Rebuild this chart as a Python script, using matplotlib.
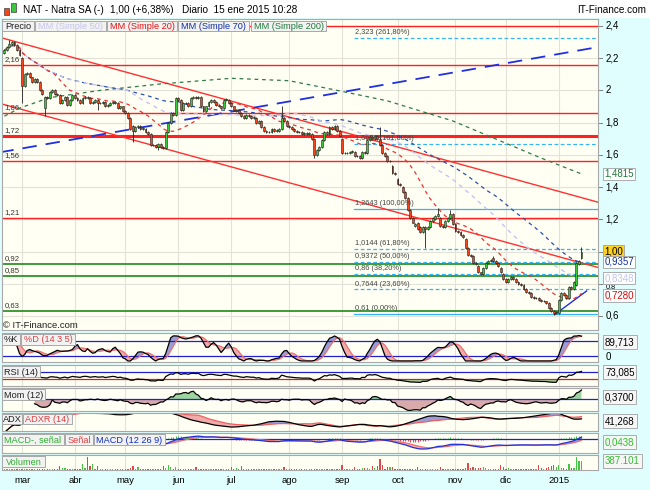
import numpy as np
import pandas as pd
import matplotlib
matplotlib.use("Agg")
import matplotlib.pyplot as plt
from matplotlib.patches import Rectangle
from matplotlib.transforms import blended_transform_factory as blend

plt.rcParams['font.family'] = ['Liberation Sans', 'DejaVu Sans']

# ---------------- data (NAT - Natra SA, daily) ----------------
holidays = ['2014-04-18', '2014-04-21', '2014-05-01', '2014-12-25', '2014-12-26', '2015-01-01']
dates = pd.bdate_range('2014-02-20', '2015-01-15')
dates = dates[~dates.isin(pd.to_datetime(holidays))]

opens = [
    2.23, 2.25, 2.27, 2.29, 2.30, 2.28, 2.25, 2.20, 2.03, 2.10,
    2.11, 2.08, 2.05, 2.07, 2.05, 2.00, 1.89, 1.96, 1.95, 1.99,
    2.00, 1.98, 1.97, 1.92, 1.94, 1.96, 1.91, 1.94, 1.97, 1.95,
    1.94, 1.92, 1.95, 1.96, 1.95, 1.92, 1.93, 1.94, 1.92, 1.92,
    1.93, 1.90, 1.91, 1.92, 1.93, 1.92, 1.89, 1.90, 1.87, 1.86,
    1.83, 1.78, 1.75, 1.77, 1.78, 1.76, 1.76, 1.74, 1.73, 1.66,
    1.66, 1.65, 1.67, 1.65, 1.64, 1.74, 1.80, 1.86, 1.85, 1.95,
    1.94, 1.88, 1.92, 1.92, 1.90, 1.95, 1.96, 1.95, 1.96, 1.90,
    1.87, 1.90, 1.93, 1.94, 1.93, 1.91, 1.90, 1.89, 1.94, 1.94,
    1.92, 1.90, 1.87, 1.88, 1.86, 1.84, 1.83, 1.85, 1.84, 1.83,
    1.83, 1.80, 1.81, 1.77, 1.75, 1.74, 1.74, 1.76, 1.75, 1.75,
    1.76, 1.83, 1.81, 1.78, 1.77, 1.76, 1.75, 1.74, 1.74, 1.73,
    1.73, 1.73, 1.73, 1.70, 1.60, 1.63, 1.65, 1.69, 1.74, 1.73,
    1.77, 1.76, 1.78, 1.75, 1.70, 1.61, 1.61, 1.61, 1.62, 1.62,
    1.59, 1.59, 1.58, 1.62, 1.61, 1.69, 1.71, 1.70, 1.72, 1.70,
    1.66, 1.61, 1.59, 1.56, 1.53, 1.49, 1.45, 1.42, 1.40, 1.37,
    1.33, 1.26, 1.21, 1.16, 1.18, 1.15, 1.12, 1.15, 1.14, 1.15,
    1.19, 1.20, 1.22, 1.21, 1.16, 1.15, 1.19, 1.21, 1.23, 1.17,
    1.13, 1.12, 1.10, 1.08, 1.02, 0.98, 0.97, 0.93, 0.91, 0.87,
    0.86, 0.90, 0.93, 0.94, 0.96, 0.94, 0.93, 0.90, 0.86, 0.83,
    0.81, 0.83, 0.84, 0.83, 0.81, 0.80, 0.79, 0.77, 0.75, 0.74,
    0.72, 0.71, 0.71, 0.70, 0.69, 0.69, 0.68, 0.65, 0.63, 0.62,
    0.62, 0.70, 0.74, 0.73, 0.71, 0.78, 0.77, 0.79, 0.92, 0.96,
]
closes = [
    2.25, 2.27, 2.29, 2.30, 2.28, 2.25, 2.22, 2.03, 2.10, 2.11,
    2.08, 2.05, 2.07, 2.05, 2.00, 1.98, 1.96, 1.95, 1.99, 2.00,
    1.98, 1.97, 1.92, 1.94, 1.96, 1.91, 1.94, 1.97, 1.95, 1.94,
    1.92, 1.95, 1.96, 1.95, 1.92, 1.93, 1.94, 1.92, 1.92, 1.93,
    1.90, 1.91, 1.92, 1.93, 1.92, 1.89, 1.90, 1.87, 1.86, 1.83,
    1.76, 1.75, 1.77, 1.78, 1.76, 1.76, 1.74, 1.73, 1.66, 1.66,
    1.65, 1.67, 1.65, 1.64, 1.74, 1.80, 1.86, 1.85, 1.95, 1.94,
    1.88, 1.92, 1.92, 1.90, 1.95, 1.96, 1.95, 1.96, 1.90, 1.87,
    1.90, 1.93, 1.94, 1.93, 1.91, 1.90, 1.89, 1.94, 1.94, 1.92,
    1.90, 1.88, 1.88, 1.86, 1.84, 1.83, 1.85, 1.84, 1.83, 1.83,
    1.80, 1.81, 1.77, 1.75, 1.74, 1.74, 1.76, 1.75, 1.75, 1.76,
    1.83, 1.81, 1.78, 1.77, 1.76, 1.75, 1.74, 1.74, 1.73, 1.73,
    1.73, 1.73, 1.70, 1.60, 1.63, 1.65, 1.69, 1.74, 1.73, 1.77,
    1.76, 1.78, 1.75, 1.72, 1.61, 1.61, 1.61, 1.62, 1.62, 1.59,
    1.59, 1.58, 1.62, 1.61, 1.69, 1.71, 1.70, 1.72, 1.70, 1.66,
    1.61, 1.59, 1.56, 1.56, 1.49, 1.48, 1.42, 1.41, 1.37, 1.33,
    1.26, 1.21, 1.18, 1.17, 1.14, 1.12, 1.15, 1.14, 1.15, 1.19,
    1.21, 1.22, 1.23, 1.16, 1.15, 1.19, 1.21, 1.23, 1.17, 1.13,
    1.12, 1.10, 1.09, 1.02, 0.98, 0.97, 0.93, 0.92, 0.87, 0.86,
    0.90, 0.93, 0.94, 0.95, 0.94, 0.93, 0.91, 0.87, 0.83, 0.81,
    0.83, 0.84, 0.83, 0.81, 0.80, 0.79, 0.77, 0.75, 0.74, 0.72,
    0.71, 0.71, 0.70, 0.69, 0.69, 0.68, 0.65, 0.63, 0.62, 0.62,
    0.70, 0.74, 0.73, 0.71, 0.78, 0.77, 0.81, 0.93, 0.94, 1.00,
]
# only the wicks that stick out visibly
wick_hi = {2: 2.31, 110: 1.90, 149: 1.77, 172: 1.27, 177: 1.26, 194: 0.97, 229: 1.03}
wick_lo = {7: 1.92, 16: 1.84, 37: 1.88, 51: 1.68, 61: 1.63, 123: 1.58, 167: 1.02, 218: 0.605}

volume = [  # thousands of shares
    20, 25, 30, 20, 25, 30, 20, 35, 25, 30,
    20, 25, 30, 20, 35, 30, 40, 25, 30, 20,
    25, 35, 130, 50, 50, 30, 20, 25, 30, 35,
    40, 170, 60, 380, 130, 170, 40, 120, 30, 25,
    20, 25, 30, 20, 35, 30, 25, 30, 35, 40,
    60, 130, 40, 80, 30, 25, 20, 30, 40, 35,
    30, 25, 40, 130, 50, 150, 80, 40, 80, 30,
    35, 40, 30, 25, 30, 40, 80, 30, 25, 20,
    20, 25, 30, 20, 25, 20, 30, 25, 20, 30,
    80, 40, 70, 40, 130, 30, 25, 20, 25, 20,
    20, 25, 20, 25, 30, 20, 25, 20, 25, 30,
    40, 100, 30, 25, 20, 25, 20, 30, 25, 20,
    20, 25, 30, 40, 40, 30, 25, 20, 25, 20,
    25, 20, 25, 30, 140, 30, 35, 40, 30, 80,
    30, 40, 60, 50, 70, 40, 120, 60, 130, 320,
    140, 40, 80, 80, 80, 40, 30, 35, 40, 30,
    40, 35, 30, 40, 80, 35, 30, 25, 30, 40,
    30, 25, 30, 80, 30, 25, 30, 25, 30, 40,
    35, 30, 40, 60, 220, 60, 80, 60, 70, 60,
    80, 60, 40, 30, 35, 40, 30, 140, 100, 40,
    50, 40, 35, 30, 40, 30, 35, 40, 30, 40,
    35, 40, 140, 60, 40, 50, 100, 120, 140, 100,
    140, 60, 50, 40, 180, 60, 60, 390, 260, 260,
]

# MM 200 needs history before the window
ma200_idx = [0, 6, 18, 38, 62, 90, 113, 129, 152, 178, 213, 229]
ma200_val = [1.84, 1.89, 1.955, 2.00, 2.04, 2.075, 2.06, 2.01, 1.935, 1.81, 1.58, 1.4815]

sr_red = [2.40, 2.16, 1.86, 1.72, 1.56, 1.21]
sr_green = [0.92, 0.85, 0.63]
fib_pcts = [0, 23.6, 38.2, 50, 61.8, 100, 161.8, 261.8]
fib_vals = [0.61, 0.7644, 0.86, 0.9372, 1.0144, 1.2643, 1.6687, 2.323]
fib_start = 138.7
chan_upper = [(-2, 2.33), (237, 1.30)]
chan_lower = [(-2, 1.92), (237, 0.895)]
trend_up = [(-2, 1.615), (236, 2.27)]
support = [(218.5, 0.61), (231, 0.755)]

month_labels = ['mar', 'abr', 'may', 'jun', 'jul', 'ago', 'sep', 'oct', 'nov', 'dic', '2015']
price_ticks = [2.4, 2.2, 2.0, 1.8, 1.6, 1.4, 1.2, 1.0, 0.8, 0.6]
hidden_ticks = [1.0]   # covered by the last-price box in the original
peek_ticks = [0.8]     # squeezed between two boxes in the original
last_boxes = [(1.4815, '1,4815', '#1F7A3A', 'white'),
              (1.00, '1,00', 'black', '#FFD21F'),
              (0.9357, '0,9357', '#1030A0', 'white'),
              (0.8348, '0,8348', '#C4C4EE', 'white'),
              (0.7280, '0,7280', '#D01010', 'white')]

# ---------------- derived series ----------------
n = min(len(dates), len(closes))
o = pd.Series(opens[:n], dtype=float)
c = pd.Series(closes[:n], dtype=float)
hi = pd.concat([o, c], axis=1).max(axis=1)
lo = pd.concat([o, c], axis=1).min(axis=1)
for k_, v in wick_hi.items():
    hi[k_] = v
for k_, v in wick_lo.items():
    lo[k_] = v
ix = np.arange(n)
up = (c >= o).values

ma20 = c.rolling(20, min_periods=1).mean()
ma50 = c.rolling(50, min_periods=1).mean()
ma70 = c.rolling(70, min_periods=1).mean()

ll = lo.rolling(14, min_periods=1).min()
hh = hi.rolling(14, min_periods=1).max()
raw_k = 100 * (c - ll) / (hh - ll).replace(0, np.nan)
stoch_k = raw_k.rolling(3, min_periods=1).mean()
stoch_d = stoch_k.rolling(5, min_periods=1).mean()

delta = c.diff()
gain = delta.clip(lower=0).ewm(alpha=1 / 14, adjust=False).mean()
loss = (-delta.clip(upper=0)).ewm(alpha=1 / 14, adjust=False).mean()
rsi = 100 - 100 / (1 + gain / loss.replace(0, np.nan))

mom = c - c.shift(12)

up_mv = hi.diff()
dn_mv = -lo.diff()
pdm = np.where((up_mv > dn_mv) & (up_mv > 0), up_mv, 0.0)
mdm = np.where((dn_mv > up_mv) & (dn_mv > 0), dn_mv, 0.0)
tr = pd.concat([hi - lo, (hi - c.shift()).abs(), (lo - c.shift()).abs()], axis=1).max(axis=1)
atr = tr.ewm(alpha=1 / 14, adjust=False).mean()
pdi = 100 * pd.Series(pdm).ewm(alpha=1 / 14, adjust=False).mean() / atr
mdi = 100 * pd.Series(mdm).ewm(alpha=1 / 14, adjust=False).mean() / atr
dx = 100 * (pdi - mdi).abs() / (pdi + mdi).replace(0, np.nan)
adx = dx.fillna(0).ewm(alpha=1 / 14, adjust=False).mean()
adxr = ((adx + adx.shift(14)) / 2).fillna(adx)

macd = c.ewm(span=12, adjust=False).mean() - c.ewm(span=26, adjust=False).mean()
signal = macd.ewm(span=9, adjust=False).mean()
hist = macd - signal

# ---------------- layout helpers ----------------
W, H = 650, 490
CYAN = '#E0FEFE'
IVORY = '#FFFFF4'
GRID = '#E2E2D8'
GREEN = '#3CC83C'
RED = '#F2461E'

fig = plt.figure(figsize=(W / 100, H / 100), dpi=100)
fig.patch.set_facecolor(CYAN)


def px_rect(l, t, r, b):
    return [l / W, 1 - b / H, (r - l) / W, (b - t) / H]


def ftext(x, y, s, **kw):
    fig.text(x / W, 1 - y / H, s, **kw)


def fbox(l, t, r, b, s, color, fc='#F2F2F2', size=6.6):
    fig.add_artist(Rectangle((l / W, 1 - b / H), (r - l) / W, (b - t) / H,
                             transform=fig.transFigure, fc=fc, ec='#A8A8A8', lw=0.7))
    ftext((l + r) / 2, (t + b) / 2 + 0.5, s, color=color, fontsize=size, ha='center', va='center')


XLIM = ((2 - 4.4) / 2.52, (598 - 4.4) / 2.52)
month_pos = [i for i in range(1, n) if dates[i].month != dates[i - 1].month]


def panel(l, t, r, b, ylim):
    a = fig.add_axes(px_rect(l, t, r, b))
    a.set_facecolor(IVORY)
    a.set_xlim(*XLIM)
    a.set_ylim(*ylim)
    a.set_xticks([])
    a.set_yticks([])
    for sp in a.spines.values():
        sp.set_color('#A8A8A8')
        sp.set_linewidth(0.8)
    for m in month_pos:
        a.axvline(m, color=GRID, lw=0.8, zorder=0)
    return a


# header band
fig.add_artist(Rectangle((0, 1 - 18 / H), 1, 18 / H, transform=fig.transFigure, fc='white', ec='none'))
fig.add_artist(Rectangle((4 / W, 1 - 15 / H), 5 / W, 7 / H, transform=fig.transFigure, fc=RED, ec='#404040', lw=0.5))
fig.add_artist(Rectangle((11 / W, 1 - 12 / H), 5 / W, 9 / H, transform=fig.transFigure, fc=GREEN, ec='#404040', lw=0.5))
ftext(23, 10, 'NAT - Natra SA (-)', fontsize=7.2, va='center')
ftext(110, 10, '1,00 (+6,38%)', fontsize=7.2, va='center')
ftext(182, 10, 'Diario  15 ene 2015 10:28', fontsize=7.2, va='center')
ftext(646, 10, 'IT-Finance.com', fontsize=7.2, va='center', ha='right')

# ---------------- price panel ----------------
ax = panel(2, 19, 598, 330, (0.513, 2.443))
for v in np.arange(0.6, 2.41, 0.2):
    ax.axhline(v, color=GRID, lw=0.8, zorder=0)

for v in sr_red:
    ax.axhline(v, color='#FF2020', lw=2.2 if v == 1.72 else 1.0, zorder=2)
    if v < 2.3:
        ax.text(0.004, v + 0.012, f'{v:.2f}'.replace('.', ','), transform=blend(ax.transAxes, ax.transData),
                fontsize=5.6, color='#333333', va='bottom')
for v in sr_green:
    ax.axhline(v, color='#0A800A', lw=1.1, zorder=2)
    ax.text(0.004, v + 0.012, f'{v:.2f}'.replace('.', ','), transform=blend(ax.transAxes, ax.transData),
            fontsize=5.6, color='#333333', va='bottom')

for p, v in zip(fib_pcts, fib_vals):
    ls = '-' if p in (0, 100) else (0, (3, 2))
    ax.plot([fib_start, XLIM[1]], [v, v], color='#34B4F4', lw=0.9, ls=ls, zorder=2)
    ax.text(fib_start + 0.5, v + 0.012, f'{str(v).replace(".", ",")} ({p:.2f}%)'.replace('.', ','),
            fontsize=5.3, color='#444444', va='bottom', zorder=6)

for line in (chan_upper, chan_lower):
    ax.plot(*zip(*line), color='#FF3030', lw=1.0, zorder=2)
ax.plot(*zip(*trend_up), color='#2030E0', lw=1.3, dashes=(8, 5), zorder=2)
ax.plot(*zip(*support), color='#2030E0', lw=1.0, zorder=2)

ax.plot(ma200_idx, ma200_val, color='#2E7A4A', lw=0.9, dashes=(3, 3), zorder=3)
ax.plot(ix, ma70, color='#2A50B0', lw=0.9, dashes=(3, 3), zorder=3)
ax.plot(ix, ma50, color='#C4C4F0', lw=1.0, dashes=(3, 3), zorder=3)
ax.plot(ix, ma20, color='#F03030', lw=0.9, dashes=(3, 3), zorder=3)

# candles
body_lo = np.minimum(o, c)
body_h = np.maximum((o - c).abs(), 0.004)
ax.vlines(ix, np.minimum(lo, body_lo - 0.006), np.maximum(hi, body_lo + body_h + 0.006),
          color='#202020', lw=0.6, zorder=4)
ax.bar(ix, body_h, bottom=body_lo, width=0.75, color=np.where(up, GREEN, RED),
       edgecolor='#202020', linewidth=0.4, zorder=5)

# right price scale
yb = blend(ax.transAxes, ax.transData)
for v in price_ticks:
    ax.plot([1.0, 1.006], [v, v], transform=yb, color='#808080', lw=0.7, clip_on=False)
    if v in hidden_ticks:
        continue
    if v in peek_ticks:
        ax.text(1.013, v - 0.017, f'{v:g}'.replace('.', ','), transform=yb, fontsize=5.2,
                va='center', clip_on=False)
    else:
        ax.text(1.013, v, f'{v:g}'.replace('.', ','), transform=yb, fontsize=7, va='center', clip_on=False)
for v, s, col, fc in last_boxes:
    ax.text(1.011, v, s, transform=yb, fontsize=7, va='center', color=col, clip_on=False, zorder=10,
            bbox=dict(boxstyle='square,pad=0.12', fc=fc, ec='#A0A0A0', lw=0.6))

# legend row
fbox(2, 21, 34, 31, 'Precio', '#202020')
fbox(35, 21, 106, 31, 'MM (Simple 50)', '#C4C4EE')
fbox(107, 21, 177, 31, 'MM (Simple 20)', '#E01010')
fbox(178, 21, 249, 31, 'MM (Simple 70)', '#1030A0')
fbox(251, 21, 326, 31, 'MM (Simple 200)', '#1F7A3A')
ftext(3, 325, '© IT-Finance.com', fontsize=6.8, va='center', color='#202020')

# ---------------- stochastic ----------------
a1 = panel(2, 333, 598, 362, (-4, 110))
a1.fill_between(ix, stoch_k, stoch_d, where=stoch_k >= stoch_d, color='#9C9CD6', lw=0, interpolate=True)
a1.fill_between(ix, stoch_k, stoch_d, where=stoch_k < stoch_d, color='#F2AAAA', lw=0, interpolate=True)
a1.axhline(80, color='#2020D0', lw=0.9)
a1.axhline(20, color='#2020D0', lw=0.9)
a1.plot(ix, stoch_d, color='#EE7070', lw=0.9)
a1.plot(ix, stoch_k, color='black', lw=0.9)
fbox(2, 334, 20, 345, '%K', '#202020')
fbox(21, 334, 75, 345, '%D (14 3 5)', '#E04040')

# ---------------- RSI ----------------
a2 = panel(2, 365, 598, 386, (-9, 111))
a2.fill_between(ix, rsi, 30, where=rsi < 30, color='#9ED49E', lw=0, interpolate=True)
a2.fill_between(ix, rsi, 70, where=rsi > 70, color='#9C9CD6', lw=0, interpolate=True)
a2.axhline(70, color='#2020D0', lw=0.9)
a2.axhline(30, color='#D02020', lw=0.9)
a2.plot(ix, rsi, color='black', lw=0.9)
fbox(2, 366, 40, 377, 'RSI (14)', '#202020')

# ---------------- momentum ----------------
a3 = panel(2, 388, 598, 411, (-0.47, 0.45))
a3.fill_between(ix, mom, 0, where=mom >= 0, color='#9ED49E', lw=0, interpolate=True)
a3.fill_between(ix, mom, 0, where=mom < 0, color='#D8AAAA', lw=0, interpolate=True)
a3.axhline(0, color='#2020D0', lw=0.9)
a3.plot(ix, mom, color='black', lw=0.9)
fbox(2, 389, 45, 400, 'Mom (12)', '#202020')

# ---------------- ADX ----------------
a4 = panel(2, 413, 598, 431, (5, 58))
a4.fill_between(ix, adx, adxr, where=adx >= adxr, color='#9C9CD6', lw=0, interpolate=True)
a4.fill_between(ix, adx, adxr, where=adx < adxr, color='#F2AAAA', lw=0, interpolate=True)
a4.plot(ix, adxr, color='#EE6060', lw=0.9)
a4.plot(ix, adx, color='black', lw=0.9)
fbox(2, 414, 22, 424, 'ADX', '#202020')
fbox(23, 414, 72, 424, 'ADXR (14)', '#E04040')

# ---------------- MACD ----------------
a5 = panel(2, 433, 598, 453, (-0.19, 0.081))
a5.vlines(ix, 0, hist, color=np.where(hist >= 0, '#40C040', '#E05050'), lw=0.8)
a5.fill_between(ix, macd, signal, where=macd >= signal, color='#9C9CD6', lw=0, interpolate=True)
a5.fill_between(ix, macd, signal, where=macd < signal, color='#F2AAAA', lw=0, interpolate=True)
a5.axhline(0, color='#2020D0', lw=0.9)
a5.plot(ix, signal, color='#EE7070', lw=0.9)
a5.plot(ix, macd, color='#2030E0', lw=0.9)
fbox(2, 434, 64, 445, 'MACD-, señal', '#30B030')
fbox(65, 434, 93, 445, 'Señal', '#E04040')
fbox(94, 434, 165, 445, 'MACD (12 26 9)', '#1030C0')

# ---------------- volume ----------------
a6 = panel(2, 455, 598, 470, (0, 440))
vol = np.array(volume[:n], dtype=float)
a6.bar(ix, vol, width=0.5, color=np.where(up, '#40C840', '#E04848'), lw=0)
fbox(2, 456, 45, 467, 'Volumen', '#30B030')

# month labels under the last panel
xb = blend(a6.transData, a6.transAxes)
for m, lab in zip(month_pos, month_labels):
    a6.text(m, -0.72, lab, transform=xb, ha='center', va='center', fontsize=6.8, clip_on=False)

# right-side values of the indicator panels
box = dict(boxstyle='square,pad=0.2', fc='#F6F6F6', ec='#A0A0A0', lw=0.6)
ftext(605, 342, '89,713', fontsize=7, va='center', bbox=box)
ftext(606, 357, '0', fontsize=7, va='center')
ftext(605, 372, '73,085', fontsize=7, va='center', bbox=box)
ftext(605, 397, '0,3700', fontsize=7, va='center', bbox=box)
ftext(605, 421, '41,268', fontsize=7, va='center', bbox=box)
ftext(605, 442, '0,0438', fontsize=7, va='center', color='#30C030', bbox=box)
ftext(605, 461, '387.101', fontsize=7, va='center', color='#30C030', bbox=box)

fig.savefig('out.png', dpi=100, facecolor=fig.get_facecolor())
